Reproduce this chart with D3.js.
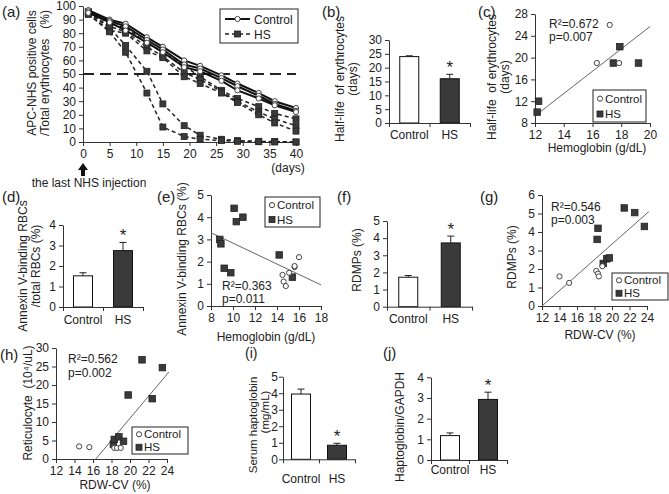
<!DOCTYPE html>
<html><head><meta charset="utf-8">
<script src="https://cdn.jsdelivr.net/npm/d3@7"></script>
<style>
body{margin:0;background:#fff;}
svg text{font-family:"Liberation Sans",Arial,sans-serif;fill:#222;}
</style></head><body>
<svg id="c" width="669" height="494"></svg>
<script>
// ---------------- DATA ----------------
const categories = ["Control", "HS"];
// (a) survival of labelled erythrocytes
const daysA = [1, 5, 8, 12, 15, 19, 22, 26, 29, 33, 36, 40];
const ctrlA1 = [97, 90, 87, 77, 70, 60, 56, 49, 43, 36, 30, 25];
const ctrlA2 = [96, 89, 85, 75, 68, 57, 54, 47, 41, 34, 28, 23];
const ctrlA3 = [95, 88, 82, 73, 66, 55, 52, 45, 38, 32, 27, 22];
const hsA1 = [96, 87, 84, 73, 66, 56, 48, 38, 32, 26, 21, 17];
const hsA2 = [95, 85, 81, 70, 63, 51, 46, 37, 30, 22, 17, 12];
const hsA3 = [94, 82, 80, 67, 62, 48, 43, 36, 29, 20, 14, 8];
const hsA4 = [95, 84, 71, 52, 28, 12, 5, 2, 1, 0.5, 0.3, 0];
const hsA5 = [94, 81, 66, 36, 11, 4, 2, 1, 0.5, 0.2, 0, 0];
const halfLineA = 50;
const xTicksA = [0, 5, 10, 15, 20, 25, 30, 35, 40];
const yTicksA = [0, 10, 20, 30, 40, 50, 60, 70, 80, 90, 100];
// (b) half-life
const halfLifeMean = [24, 16];
const halfLifeSem = [0.3, 1.6];
const yTicksB = [0, 5, 10, 15, 20, 25, 30];
// (c) half-life vs hemoglobin
const hbCtrlC = [16.3, 17.2, 17.85];
const hlCtrlC = [19, 26, 19];
const hbHsC = [12.15, 12.25, 17.45, 17.9, 19.2];
const hlHsC = [10, 12, 19, 22, 19];
const fitC = [[12, 9.3], [20, 25.7]];
const xTicksC = [12, 14, 16, 18, 20];
const yTicksC = [8, 12, 16, 20, 24, 28];
// (d) annexin V
const annexMean = [1.52, 2.75];
const annexSem = [0.15, 0.4];
const yTicksD = [0, 1, 2, 3, 4];
// (e) annexin vs hemoglobin
const hbCtrlE = [14.5, 14.6, 14.8, 15.1, 15.6, 15.6, 16.0];
const anCtrlE = [1.4, 1.1, 0.9, 1.5, 1.75, 1.8, 2.2];
const hbHsE = [8.8, 8.9, 9.2, 9.8, 10.1, 10.3, 10.9, 14.2, 15.4];
const anHsE = [3.0, 2.8, 1.7, 1.5, 4.4, 3.8, 4.0, 2.3, 1.3];
const fitE = [[8, 3.3], [18, 0.95]];
const xTicksE = [8, 10, 12, 14, 16, 18];
const yTicksE = [0, 1, 2, 3, 4, 5];
// (f) RDMPs
const rdmpMean = [1.72, 3.72];
const rdmpSem = [0.1, 0.4];
const yTicksF = [0, 1, 2, 3, 4, 5];
// (g) RDMPs vs RDW-CV
const rdwCtrlG = [14.0, 15.1, 18.2, 18.4, 18.5, 18.9];
const rdmpCtrlG = [1.6, 1.25, 1.9, 1.75, 1.6, 2.15];
const rdwHsG = [18.3, 18.4, 19.0, 19.4, 19.7, 21.4, 22.6, 23.7];
const rdmpHsG = [3.6, 4.2, 2.3, 2.55, 2.6, 5.3, 5.05, 4.3];
const fitG = [[12, 0], [24.2, 5.1]];
const xTicksG = [12, 14, 16, 18, 20, 22, 24];
const yTicksG = [0, 1, 2, 3, 4, 5, 6];
// (h) reticulocytes vs RDW-CV
const rdwCtrlH = [14.5, 15.6, 18.3, 18.6, 19.0];
const retCtrlH = [3.4, 3.2, 3.0, 3.0, 3.0];
const rdwHsH = [18.2, 18.3, 18.8, 19.3, 19.8, 21.3, 22.4, 23.5];
const retHsH = [4.0, 5.3, 6.0, 4.8, 17.3, 26.8, 16.3, 24.7];
const fitH = [[16.3, 0], [24.2, 23.5]];
const xTicksH = [12, 14, 16, 18, 20, 22, 24];
const yTicksH = [0, 5, 10, 15, 20, 25, 30];
// (i) serum haptoglobin
const haptoMean = [3.95, 0.85];
const haptoSem = [0.3, 0.12];
const yTicksI = [0, 1, 2, 3, 4, 5];
// (j) haptoglobin / GAPDH
const hgMean = [1.18, 2.93];
const hgSem = [0.13, 0.35];
const yTicksJ = [0, 1, 2, 3, 4];

// ---------------- DRAWING ----------------
const svg = d3.select("#c");
const FONT = '"Liberation Sans",Arial,sans-serif';
const AX = "#333";

function styleAxis(g) {
  g.attr("font-family", FONT).attr("font-size", 12);
  g.select(".domain").attr("stroke", AX);
  g.selectAll(".tick line").attr("stroke", AX);
  g.selectAll(".tick text").attr("fill", "#222");
}
function yAxis(scale, ticks, x, pad) {
  svg.append("g").attr("transform", `translate(${x},0)`)
    .call(d3.axisLeft(scale).tickValues(ticks).tickSize(4).tickSizeOuter(0).tickPadding(pad == null ? 3 : pad).tickFormat(d3.format("d")))
    .call(styleAxis);
}
function xAxis(scale, ticks, y) {
  svg.append("g").attr("transform", `translate(0,${y})`)
    .call(d3.axisBottom(scale).tickValues(ticks).tickSize(4).tickSizeOuter(0).tickPadding(3).tickFormat(d3.format("d")))
    .call(styleAxis);
}
function label(x, y, str, size, anchor) {
  return svg.append("text").attr("x", x).attr("y", y).attr("font-size", size || 12)
    .attr("text-anchor", anchor || "start").style("white-space", "pre").text(str);
}
function vlabel(x, y, str, size) {
  return svg.append("text").attr("transform", `translate(${x},${y}) rotate(-90)`)
    .attr("font-size", size || 12).attr("text-anchor", "middle").attr("dominant-baseline", "central")
    .style("white-space", "pre").text(str);
}
function circle(g, x, y) {
  g.append("circle").attr("cx", x).attr("cy", y).attr("r", 2.6)
    .attr("fill", "#fff").attr("stroke", "#444").attr("stroke-width", 1);
}
function square(g, x, y, s) {
  s = s || 6.5;
  g.append("rect").attr("x", x - s / 2).attr("y", y - s / 2).attr("width", s).attr("height", s)
    .attr("fill", "#3a3a3a").attr("stroke", "#222").attr("stroke-width", 0.8);
}
function legendBox(x, y, w, h) {
  svg.append("rect").attr("x", x).attr("y", y).attr("width", w).attr("height", h)
    .attr("fill", "#fff").attr("stroke", "#222").attr("stroke-width", 1);
  const g = svg.append("g");
  circle(g, x + 7, y + h * 0.27);
  label(x + 12, y + h * 0.27 + 4, "Control", 11.5);
  square(g, x + 7, y + h * 0.75, 6);
  label(x + 12, y + h * 0.75 + 4, "HS", 11.5);
}

function barPanel(p, means, sems) {
  const y = d3.scaleLinear([p.yTicks[0], p.yTicks[p.yTicks.length - 1]], [p.yb, p.yt]);
  const x = d3.scaleBand(categories, [p.x0, p.x1]);
  const bw = 19;
  categories.forEach((c, i) => {
    const cx = x(c) + x.bandwidth() / 2;
    svg.append("rect").attr("x", cx - bw / 2).attr("y", y(means[i]))
      .attr("width", bw).attr("height", y(0) - y(means[i]))
      .attr("fill", i === 0 ? "#fff" : "#3a3a3a").attr("stroke", "#111").attr("stroke-width", 1);
    const top = y(means[i] + sems[i]);
    svg.append("line").attr("x1", cx).attr("x2", cx).attr("y1", y(means[i])).attr("y2", top).attr("stroke", "#222");
    svg.append("line").attr("x1", cx - 3.5).attr("x2", cx + 3.5).attr("y1", top).attr("y2", top).attr("stroke", "#222");
    if (i === 1) label(cx, top - 1, "*", 17, "middle");
  });
  yAxis(y, p.yTicks, p.x0, p.yPad);
  const xb = d3.scaleLinear([0, 2], [p.x0, p.x1]);
  svg.append("g").attr("transform", `translate(0,${p.yb})`)
    .call(d3.axisBottom(xb).tickValues([0, 1, 2]).tickFormat("").tickSize(4).tickSizeOuter(0))
    .call(styleAxis);
  svg.append("g").attr("transform", `translate(0,${p.yb})`)
    .call(d3.axisBottom(x).tickSize(0).tickPadding(p.catPad))
    .call(styleAxis).call(g => g.select(".domain").remove());
}

function scatterPanel(p, xc, yc, xh, yh, fit) {
  const x = d3.scaleLinear([p.xTicks[0], p.xTicks[p.xTicks.length - 1]], [p.x0, p.x1]);
  const y = d3.scaleLinear([p.yTicks[0], p.yTicks[p.yTicks.length - 1]], [p.yb, p.yt]);
  yAxis(y, p.yTicks, p.x0);
  xAxis(x, p.xTicks, p.yb);
  svg.append("line").attr("x1", x(fit[0][0])).attr("y1", y(fit[0][1]))
    .attr("x2", x(fit[1][0])).attr("y2", y(fit[1][1])).attr("stroke", "#666").attr("stroke-width", 1);
  const g = svg.append("g");
  xh.forEach((v, i) => square(g, x(v), y(yh[i])));
  xc.forEach((v, i) => circle(g, x(v), y(yc[i])));
}

// ===== (a) =====
{
  const x = d3.scaleLinear([0, 40], [83, 296]);
  const y = d3.scaleLinear([0, 100], [142, 6]);
  yAxis(y, yTicksA, 83);
  xAxis(x, xTicksA, 142);
  svg.append("line").attr("x1", x(0)).attr("x2", x(40)).attr("y1", y(halfLineA)).attr("y2", y(halfLineA))
    .attr("stroke", "#222").attr("stroke-width", 2).attr("stroke-dasharray", "11,6");
  const line = d3.line().x((d, i) => x(daysA[i])).y(d => y(d));
  const g = svg.append("g");
  [hsA1, hsA2, hsA3, hsA4, hsA5].forEach(s => {
    g.append("path").attr("d", line(s)).attr("fill", "none").attr("stroke", "#222")
      .attr("stroke-width", 1.5).attr("stroke-dasharray", "4,3");
    s.forEach((v, i) => square(g, x(daysA[i]), y(v), 6));
  });
  [ctrlA1, ctrlA2, ctrlA3].forEach(s => {
    g.append("path").attr("d", line(s)).attr("fill", "none").attr("stroke", "#111").attr("stroke-width", 2);
    s.forEach((v, i) => circle(g, x(daysA[i]), y(v)));
  });
  svg.append("rect").attr("x", 220).attr("y", 9).attr("width", 78).attr("height", 34)
    .attr("fill", "#fff").attr("stroke", "#222");
  svg.append("line").attr("x1", 225).attr("x2", 250).attr("y1", 19).attr("y2", 19).attr("stroke", "#111").attr("stroke-width", 2);
  circle(svg, 237.5, 19);
  label(254, 23.5, "Control", 12);
  svg.append("line").attr("x1", 225).attr("x2", 250).attr("y1", 34).attr("y2", 34).attr("stroke", "#222")
    .attr("stroke-width", 1.5).attr("stroke-dasharray", "4,3");
  square(svg, 237.5, 34, 6);
  label(254, 38.5, "HS", 12);
  label(2, 17, "(a)", 15);
  vlabel(32, 73, "APC-NHS positive cells", 12);
  vlabel(45, 73, "/Total erythrocytes   (%)", 12);
  label(288, 172, "(days)", 12, "middle");
  svg.append("path").attr("d", `M${x(0)},163 L${x(0) + 5},170 L${x(0) + 2},170 L${x(0) + 2},176 L${x(0) - 2},176 L${x(0) - 2},170 L${x(0) - 5},170 Z`).attr("fill", "#111");
  label(89, 187, "the last NHS injection", 12, "middle");
}

// ===== (b) =====
barPanel({ x0: 389, x1: 470, yb: 123, yt: 40, yTicks: yTicksB, catPad: 7 }, halfLifeMean, halfLifeSem);
label(322, 17, "(b)", 15);
vlabel(340, 79, "Half-life  of erythrocytes", 12);
vlabel(353, 79, "(days)", 12);

// ===== (c) =====
scatterPanel({ x0: 535, x1: 650, yb: 123, yt: 14, xTicks: xTicksC, yTicks: yTicksC }, hbCtrlC, hlCtrlC, hbHsC, hlHsC, fitC);
legendBox(593, 90, 53, 32);
label(549, 28, "R²=0.672", 12);
label(549, 41, "p=0.007", 12);
label(478, 17, "(c)", 15);
vlabel(492, 77, "Half-life  of erythrocytes", 12);
vlabel(505, 77, "(days)", 12);
label(597, 152, "Hemoglobin (g/dL)", 12, "middle");

// ===== (d) =====
barPanel({ x0: 63, x1: 143, yb: 307, yt: 225, yTicks: yTicksD, catPad: 8 }, annexMean, annexSem);
label(2, 202, "(d)", 15);
vlabel(23, 266, "Annexin V-binding RBCs", 12);
vlabel(36, 266, "/total RBCs (%)", 12);

// ===== (e) =====
scatterPanel({ x0: 211, x1: 321, yb: 306, yt: 195, xTicks: xTicksE, yTicks: yTicksE }, hbCtrlE, anCtrlE, hbHsE, anHsE, fitE);
legendBox(265, 197, 55, 30);
label(222, 290, "R²=0.363", 12);
label(222, 303, "p=0.011", 12);
label(157, 202, "(e)", 15);
vlabel(182, 259, "Annexin V-binding RBCs (%)", 12);
label(266, 341, "Hemoglobin (g/dL)", 12, "middle");

// ===== (f) =====
barPanel({ x0: 387, x1: 472, yb: 306.7, yt: 221, yTicks: yTicksF, catPad: 8 }, rdmpMean, rdmpSem);
label(337, 202, "(f)", 15);
vlabel(357, 260, "RDMPs (%)", 12);

// ===== (g) =====
scatterPanel({ x0: 542, x1: 647, yb: 306, yt: 195, xTicks: xTicksG, yTicks: yTicksG }, rdwCtrlG, rdmpCtrlG, rdwHsG, rdmpHsG, fitG);
legendBox(612, 273, 56, 27);
label(551, 211, "R²=0.546", 12);
label(551, 224, "p=0.003", 12);
label(480, 202, "(g)", 15);
vlabel(512, 257, "RDMPs (%)", 12);
label(600, 339, "RDW-CV (%)", 12, "middle");

// ===== (h) =====
scatterPanel({ x0: 56, x1: 167, yb: 459, yt: 348, xTicks: xTicksH, yTicks: yTicksH }, rdwCtrlH, retCtrlH, rdwHsH, retHsH, fitH);
legendBox(132, 427, 56, 27);
label(68, 363, "R²=0.562", 12);
label(68, 377, "p=0.002", 12);
label(0, 360, "(h)", 15);
vlabel(28, 403, "Reticulocyte  (10⁴/uL)", 12);
label(115, 489, "RDW-CV (%)", 12, "middle");

// ===== (i) =====
barPanel({ x0: 283, x1: 355, yb: 459.3, yt: 376.7, yTicks: yTicksI, catPad: 15, yPad: 1 }, haptoMean, haptoSem);
label(245, 358, "(i)", 14);
vlabel(253, 425, "Serum haptoglobin", 11.5);
vlabel(265, 412, "(mg/mL)", 11.5);

// ===== (j) =====
barPanel({ x0: 431, x1: 507, yb: 460, yt: 377.3, yTicks: yTicksJ, catPad: 5 }, hgMean, hgSem);
label(383, 358, "(j)", 15);
vlabel(400, 427, "Haptoglobin/GAPDH", 12);
</script>
</body></html>
